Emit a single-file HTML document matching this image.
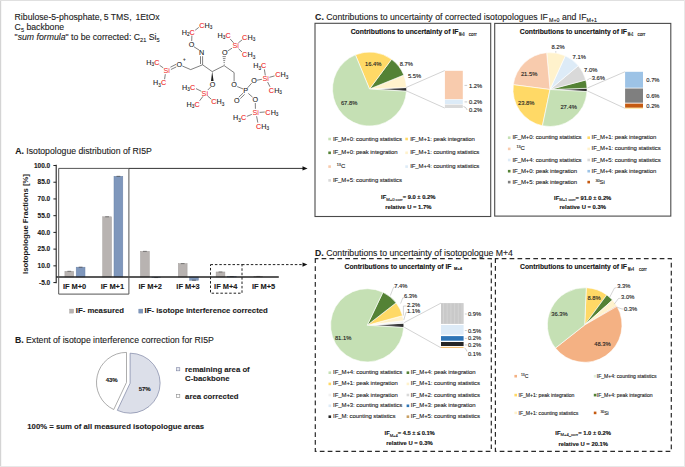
<!DOCTYPE html><html><head><meta charset="utf-8"><style>html,body{margin:0;padding:0;background:#fff;}svg{display:block;}</style></head><body>
<svg width="685" height="467" viewBox="0 0 685 467" font-family='"Liberation Sans", sans-serif'>
<defs><linearGradient id="oth" x1="0" y1="0" x2="1" y2="0"><stop offset="0" stop-color="#fff"/><stop offset="0.35" stop-color="#bbb"/><stop offset="0.7" stop-color="#444"/><stop offset="1" stop-color="#111"/></linearGradient></defs>
<rect x="0.00" y="0.00" width="685.00" height="467.00" fill="#fff" stroke="none" stroke-width="0"/>
<rect x="0.00" y="0.00" width="1.20" height="467.00" fill="#d4d4d4" stroke="none" stroke-width="0"/>
<rect x="0.00" y="0.00" width="685.00" height="1.00" fill="#e0e0e0" stroke="none" stroke-width="0"/>
<rect x="684.00" y="0.00" width="1.00" height="467.00" fill="#e8e8e8" stroke="none" stroke-width="0"/>
<rect x="0.00" y="466.00" width="685.00" height="1.00" fill="#e8e8e8" stroke="none" stroke-width="0"/>
<text x="14.60" y="20.10" font-size="8.7" text-anchor="start" fill="#1a1a1a" stroke="#1a1a1a" stroke-width="0.1">Ribulose-5-phosphate,<tspan dx="-0.7"> 5 TMS,</tspan><tspan dx="1.5"> 1EtOx</tspan></text>
<text x="14.60" y="30.10" font-size="8.7" text-anchor="start" fill="#1a1a1a" stroke="#1a1a1a" stroke-width="0.1">C<tspan font-size="5.6" dy="1.6">5</tspan><tspan dy="-1.6"> backbone</tspan></text>
<text x="14.60" y="40.00" font-size="8.7" text-anchor="start" fill="#1a1a1a" stroke="#1a1a1a" stroke-width="0.1">"<tspan font-style="italic">sum formula</tspan>" to be corrected: C<tspan font-size="5.6" dy="1.6">21</tspan><tspan dy="-1.6"> Si</tspan><tspan font-size="5.6" dy="1.6">5</tspan></text>
<text x="15.20" y="153.70" font-size="8.7" text-anchor="start" fill="#1a1a1a" stroke="#1a1a1a" stroke-width="0.1"><tspan font-weight="bold">A.</tspan> Isotopologue distribution of RI5P</text>
<text x="14.90" y="343.20" font-size="8.7" text-anchor="start" fill="#1a1a1a" stroke="#1a1a1a" stroke-width="0.1"><tspan font-weight="bold">B.</tspan> Extent of isotope interference correction for RI5P</text>
<text x="315.10" y="20.20" font-size="8.7" text-anchor="start" fill="#1a1a1a" stroke="#1a1a1a" stroke-width="0.1" textLength="232.8" lengthAdjust="spacing"><tspan font-weight="bold">C.</tspan> Contributions to uncertainty of corrected isotopologues IF</text>
<text x="549.00" y="22.00" font-size="5.3" text-anchor="start" fill="#1a1a1a" stroke="#1a1a1a" stroke-width="0.12">M+0</text>
<text x="561.90" y="20.20" font-size="8.7" text-anchor="start" fill="#1a1a1a" stroke="#1a1a1a" stroke-width="0.1">and IF</text>
<text x="586.60" y="22.00" font-size="5.3" text-anchor="start" fill="#1a1a1a" stroke="#1a1a1a" stroke-width="0.12">M+1</text>
<text x="315.10" y="255.50" font-size="8.7" text-anchor="start" fill="#1a1a1a" stroke="#1a1a1a" stroke-width="0.1"><tspan font-weight="bold">D.</tspan> Contributions to uncertainty of isotopologue M+4</text>
<line x1="56.20" y1="164.80" x2="56.20" y2="283.20" stroke="#222" stroke-width="1.1"/>
<line x1="53.40" y1="165.50" x2="56.20" y2="165.50" stroke="#222" stroke-width="1"/>
<text x="50.20" y="167.70" font-size="6.5" font-weight="bold" text-anchor="end" fill="#1a1a1a" stroke="#1a1a1a" stroke-width="0.12">100.0</text>
<line x1="53.40" y1="182.22" x2="56.20" y2="182.22" stroke="#222" stroke-width="1"/>
<text x="50.20" y="184.42" font-size="6.5" font-weight="bold" text-anchor="end" fill="#1a1a1a" stroke="#1a1a1a" stroke-width="0.12">85.0</text>
<line x1="53.40" y1="198.95" x2="56.20" y2="198.95" stroke="#222" stroke-width="1"/>
<text x="50.20" y="201.15" font-size="6.5" font-weight="bold" text-anchor="end" fill="#1a1a1a" stroke="#1a1a1a" stroke-width="0.12">70.0</text>
<line x1="53.40" y1="215.68" x2="56.20" y2="215.68" stroke="#222" stroke-width="1"/>
<text x="50.20" y="217.88" font-size="6.5" font-weight="bold" text-anchor="end" fill="#1a1a1a" stroke="#1a1a1a" stroke-width="0.12">55.0</text>
<line x1="53.40" y1="232.40" x2="56.20" y2="232.40" stroke="#222" stroke-width="1"/>
<text x="50.20" y="234.60" font-size="6.5" font-weight="bold" text-anchor="end" fill="#1a1a1a" stroke="#1a1a1a" stroke-width="0.12">40.0</text>
<line x1="53.40" y1="249.12" x2="56.20" y2="249.12" stroke="#222" stroke-width="1"/>
<text x="50.20" y="251.32" font-size="6.5" font-weight="bold" text-anchor="end" fill="#1a1a1a" stroke="#1a1a1a" stroke-width="0.12">25.0</text>
<line x1="53.40" y1="265.85" x2="56.20" y2="265.85" stroke="#222" stroke-width="1"/>
<text x="50.20" y="268.05" font-size="6.5" font-weight="bold" text-anchor="end" fill="#1a1a1a" stroke="#1a1a1a" stroke-width="0.12">10.0</text>
<line x1="53.40" y1="282.57" x2="56.20" y2="282.57" stroke="#222" stroke-width="1"/>
<text x="50.20" y="284.77" font-size="6.5" font-weight="bold" text-anchor="end" fill="#1a1a1a" stroke="#1a1a1a" stroke-width="0.12">-5.0</text>
<text x="0" y="0" font-size="7.75" font-weight="bold" text-anchor="middle" fill="#1a1a1a" transform="translate(27.8,224) rotate(-90)">Isotopologue Fractions [%]</text>
<rect x="64.90" y="271.31" width="8.80" height="5.69" fill="#b8b3b1" stroke="#a29d9b" stroke-width="0.5"/>
<line x1="67.40" y1="271.31" x2="71.20" y2="271.31" stroke="#555" stroke-width="0.7"/>
<rect x="76.20" y="267.19" width="8.80" height="9.81" fill="#7f97bc" stroke="#6a82a8" stroke-width="0.5"/>
<line x1="78.70" y1="267.19" x2="82.50" y2="267.19" stroke="#444" stroke-width="0.7"/>
<rect x="102.70" y="216.79" width="8.80" height="60.21" fill="#b8b3b1" stroke="#a29d9b" stroke-width="0.5"/>
<line x1="105.20" y1="216.79" x2="109.00" y2="216.79" stroke="#555" stroke-width="0.7"/>
<rect x="114.00" y="176.32" width="8.80" height="100.68" fill="#7f97bc" stroke="#6a82a8" stroke-width="0.5"/>
<line x1="116.50" y1="176.32" x2="120.30" y2="176.32" stroke="#444" stroke-width="0.7"/>
<rect x="140.50" y="251.35" width="8.80" height="25.65" fill="#b8b3b1" stroke="#a29d9b" stroke-width="0.5"/>
<line x1="143.00" y1="251.35" x2="146.80" y2="251.35" stroke="#555" stroke-width="0.7"/>
<rect x="151.80" y="277.00" width="8.80" height="0.56" fill="#7f97bc" stroke="#6a82a8" stroke-width="0.5"/>
<line x1="154.30" y1="277.56" x2="158.10" y2="277.56" stroke="#444" stroke-width="0.7"/>
<rect x="178.30" y="263.62" width="8.80" height="13.38" fill="#b8b3b1" stroke="#a29d9b" stroke-width="0.5"/>
<line x1="180.80" y1="263.62" x2="184.60" y2="263.62" stroke="#555" stroke-width="0.7"/>
<rect x="189.60" y="277.00" width="8.80" height="3.23" fill="#7f97bc" stroke="#6a82a8" stroke-width="0.5"/>
<line x1="192.10" y1="280.23" x2="195.90" y2="280.23" stroke="#444" stroke-width="0.7"/>
<rect x="216.10" y="271.98" width="8.80" height="5.02" fill="#b8b3b1" stroke="#a29d9b" stroke-width="0.5"/>
<line x1="218.60" y1="271.98" x2="222.40" y2="271.98" stroke="#555" stroke-width="0.7"/>
<rect x="227.40" y="276.55" width="8.80" height="0.45" fill="#7f97bc" stroke="#6a82a8" stroke-width="0.5"/>
<line x1="229.90" y1="276.55" x2="233.70" y2="276.55" stroke="#444" stroke-width="0.7"/>
<rect x="253.90" y="276.44" width="8.80" height="0.56" fill="#b8b3b1" stroke="#a29d9b" stroke-width="0.5"/>
<line x1="256.40" y1="276.44" x2="260.20" y2="276.44" stroke="#555" stroke-width="0.7"/>
<line x1="56.20" y1="277.00" x2="278.80" y2="277.00" stroke="#222" stroke-width="1.3"/>
<text x="74.60" y="289.10" font-size="7.45" font-weight="bold" text-anchor="middle" fill="#1a1a1a" stroke="#1a1a1a" stroke-width="0.1">IF M+0</text>
<text x="112.40" y="289.10" font-size="7.45" font-weight="bold" text-anchor="middle" fill="#1a1a1a" stroke="#1a1a1a" stroke-width="0.1">IF M+1</text>
<text x="150.20" y="289.10" font-size="7.45" font-weight="bold" text-anchor="middle" fill="#1a1a1a" stroke="#1a1a1a" stroke-width="0.1">IF M+2</text>
<text x="188.00" y="289.10" font-size="7.45" font-weight="bold" text-anchor="middle" fill="#1a1a1a" stroke="#1a1a1a" stroke-width="0.1">IF M+3</text>
<text x="225.80" y="289.10" font-size="7.45" font-weight="bold" text-anchor="middle" fill="#1a1a1a" stroke="#1a1a1a" stroke-width="0.1">IF M+4</text>
<text x="263.60" y="289.10" font-size="7.45" font-weight="bold" text-anchor="middle" fill="#1a1a1a" stroke="#1a1a1a" stroke-width="0.1">IF M+5</text>
<path d="M58.7,168.4 L128.9,168.4 L128.9,294.1 L58.7,294.1 Z" fill="none" stroke="#555" stroke-width="1"/>
<line x1="128.90" y1="168.40" x2="303.50" y2="168.40" stroke="#333" stroke-width="1"/>
<path d="M302.5,166.2 L307.6,168.4 L302.5,170.6 Z" fill="#111"/>
<path d="M210.5,264.6 L242,264.6 L242,293.2 L210.5,293.2 Z" fill="none" stroke="#222" stroke-width="1" stroke-dasharray="2.5,1.9"/>
<line x1="242" y1="264.6" x2="302.5" y2="264.6" stroke="#222" stroke-width="1" stroke-dasharray="2.5,1.9"/>
<path d="M302.5,262.4 L307.4,264.6 L302.5,266.8 Z" fill="#111"/>
<rect x="69.60" y="309.10" width="4.00" height="4.00" fill="#b8b3b1" stroke="#a29d9b" stroke-width="0.4"/>
<text x="75.80" y="313.40" font-size="7.75" font-weight="bold" text-anchor="start" fill="#1a1a1a" stroke="#1a1a1a" stroke-width="0.1">IF- measured</text>
<rect x="138.80" y="309.10" width="4.00" height="4.00" fill="#7f97bc" stroke="#6a82a8" stroke-width="0.4"/>
<text x="144.60" y="313.40" font-size="7.75" font-weight="bold" text-anchor="start" fill="#1a1a1a" stroke="#1a1a1a" stroke-width="0.1">IF- isotope interference corrected</text>
<path d="M130.10,383.20 L130.10,353.20 A30,30 0 1 1 117.33,410.34 Z" fill="#dcdfe9" stroke="#7d84a3" stroke-width="0.7" stroke-linejoin="round"/>
<path d="M126.50,382.40 L113.73,409.54 A30,30 0 0 1 126.50,352.40 Z" fill="#ffffff" stroke="#8a8a8a" stroke-width="0.7" stroke-linejoin="round"/>
<text x="111.70" y="382.30" font-size="6.0" font-weight="bold" text-anchor="middle" fill="#1a1a1a" stroke="#1a1a1a" stroke-width="0.12">43%</text>
<text x="144.70" y="390.50" font-size="6.0" font-weight="bold" text-anchor="middle" fill="#1a1a1a" stroke="#1a1a1a" stroke-width="0.12">57%</text>
<rect x="176.50" y="367.70" width="3.30" height="3.10" fill="#e4e6ee" stroke="#7d84a3" stroke-width="0.6"/>
<text x="185.10" y="371.80" font-size="7.75" font-weight="bold" text-anchor="start" fill="#1a1a1a" stroke="#1a1a1a" stroke-width="0.1">remaining area of</text>
<text x="185.10" y="380.60" font-size="7.75" font-weight="bold" text-anchor="start" fill="#1a1a1a" stroke="#1a1a1a" stroke-width="0.1">C-backbone</text>
<rect x="176.50" y="394.30" width="3.30" height="3.10" fill="#ffffff" stroke="#8a8a8a" stroke-width="0.6"/>
<text x="185.10" y="398.80" font-size="7.75" font-weight="bold" text-anchor="start" fill="#1a1a1a" stroke="#1a1a1a" stroke-width="0.1">area corrected</text>
<text x="27.30" y="429.00" font-size="7.75" font-weight="bold" text-anchor="start" fill="#1a1a1a" stroke="#1a1a1a" stroke-width="0.1">100% = sum of all measured isotopologue areas</text>
<rect x="315" y="23.3" width="175.7" height="193.2" fill="none" stroke="#4a4a4a" stroke-width="1.1"/>
<rect x="494.7" y="23.4" width="176.1" height="192.7" fill="none" stroke="#4a4a4a" stroke-width="1.1"/>
<rect x="315.3" y="258.6" width="176" height="192.8" fill="none" stroke="#2a2a2a" stroke-width="1.2" stroke-dasharray="4.7,3.2" stroke-dashoffset="1.6"/>
<rect x="495.4" y="258.6" width="175.9" height="192.8" fill="none" stroke="#2a2a2a" stroke-width="1.2" stroke-dasharray="4.7,3.2" stroke-dashoffset="1.6"/>
<text x="350.70" y="34.20" font-size="6.9" font-weight="bold" text-anchor="start" fill="#111" stroke="#111" stroke-width="0.12" textLength="107.8" lengthAdjust="spacingAndGlyphs">Contributions to uncertainty of IF</text>
<text x="459.00" y="35.60" font-size="4.6" font-weight="bold" text-anchor="start" fill="#111" stroke="#111" stroke-width="0.12" textLength="5.5" lengthAdjust="spacingAndGlyphs">M+0</text>
<text x="468.80" y="35.60" font-size="4.6" text-anchor="start" fill="#111" stroke="#111" stroke-width="0.12" textLength="7.9" lengthAdjust="spacingAndGlyphs">corr</text>
<text x="519.80" y="34.20" font-size="6.9" font-weight="bold" text-anchor="start" fill="#111" stroke="#111" stroke-width="0.12" textLength="107.1" lengthAdjust="spacingAndGlyphs">Contributions to uncertainty of IF</text>
<text x="627.80" y="35.60" font-size="4.6" font-weight="bold" text-anchor="start" fill="#111" stroke="#111" stroke-width="0.12" textLength="5.6" lengthAdjust="spacingAndGlyphs">M+1</text>
<text x="637.40" y="35.60" font-size="4.6" text-anchor="start" fill="#111" stroke="#111" stroke-width="0.12" textLength="7.9" lengthAdjust="spacingAndGlyphs">corr</text>
<text x="344.50" y="269.20" font-size="6.9" font-weight="bold" text-anchor="start" fill="#111" stroke="#111" stroke-width="0.12" textLength="106.9" lengthAdjust="spacingAndGlyphs">Contributions to uncertainty of IF</text>
<text x="454.00" y="270.10" font-size="3.6" font-weight="bold" text-anchor="start" fill="#111" stroke="#111" stroke-width="0.12" textLength="8.0" lengthAdjust="spacingAndGlyphs">M+4</text>
<text x="520.10" y="269.20" font-size="6.9" font-weight="bold" text-anchor="start" fill="#111" stroke="#111" stroke-width="0.12" textLength="106.9" lengthAdjust="spacingAndGlyphs">Contributions to uncertainty of IF</text>
<text x="628.00" y="270.60" font-size="4.6" font-weight="bold" text-anchor="start" fill="#111" stroke="#111" stroke-width="0.12" textLength="6.0" lengthAdjust="spacingAndGlyphs">M+4</text>
<text x="638.90" y="270.60" font-size="4.6" text-anchor="start" fill="#111" stroke="#111" stroke-width="0.12" textLength="7.9" lengthAdjust="spacingAndGlyphs">corr</text>
<defs><linearGradient id="g1" gradientUnits="userSpaceOnUse" x1="369.5" y1="0" x2="406.5" y2="0"><stop offset="0" stop-color="#fff"/><stop offset="0.2" stop-color="#c4c4c4"/><stop offset="0.42" stop-color="#6a6a6a"/><stop offset="0.75" stop-color="#444"/><stop offset="1" stop-color="#2a2a2a"/></linearGradient></defs>
<path d="M369.50,89.00 L406.47,87.54 A37,37 0 0 1 406.43,91.26 Z" fill="url(#g1)" stroke="#fff" stroke-width="0.6" stroke-linejoin="round"/>
<path d="M369.50,89.00 L403.79,75.10 A37,37 0 0 1 406.47,87.54 Z" fill="#fff2cc" stroke="#fff" stroke-width="0.6" stroke-linejoin="round"/>
<path d="M369.50,89.00 L391.57,59.30 A37,37 0 0 1 403.79,75.10 Z" fill="#548235" stroke="#fff" stroke-width="0.6" stroke-linejoin="round"/>
<path d="M369.50,89.00 L355.39,54.80 A37,37 0 0 1 391.57,59.30 Z" fill="#ffd966" stroke="#fff" stroke-width="0.6" stroke-linejoin="round"/>
<path d="M369.50,89.00 L406.43,91.26 A37,37 0 1 1 355.39,54.80 Z" fill="#c5e0b4" stroke="#fff" stroke-width="0.6" stroke-linejoin="round"/>
<text x="373.20" y="66.35" font-size="5.8" text-anchor="middle" fill="#222" stroke="#222" stroke-width="0.12">16.4%</text>
<text x="406.40" y="66.35" font-size="5.8" text-anchor="middle" fill="#222" stroke="#222" stroke-width="0.12">8.7%</text>
<text x="414.50" y="78.25" font-size="5.8" text-anchor="middle" fill="#222" stroke="#222" stroke-width="0.12">5.5%</text>
<text x="349.10" y="104.85" font-size="5.8" text-anchor="middle" fill="#222" stroke="#222" stroke-width="0.12">67.8%</text>
<line x1="405.90" y1="87.60" x2="444.70" y2="70.60" stroke="#b5b5b5" stroke-width="0.6"/>
<line x1="405.90" y1="90.60" x2="444.70" y2="108.00" stroke="#b5b5b5" stroke-width="0.6"/>
<rect x="444.90" y="70.80" width="17.90" height="28.40" fill="#f8cbad" stroke="none" stroke-width="0"/>
<rect x="444.90" y="99.70" width="17.90" height="4.30" fill="#ddebf7" stroke="none" stroke-width="0"/>
<rect x="444.90" y="104.60" width="17.90" height="3.40" fill="#d9d9d9" stroke="none" stroke-width="0"/>
<line x1="464.50" y1="85.40" x2="467.20" y2="85.40" stroke="#999" stroke-width="0.5"/>
<line x1="464.50" y1="101.90" x2="467.20" y2="101.90" stroke="#999" stroke-width="0.5"/>
<path d="M463.5,106.5 Q466,106.8 467.2,110" fill="none" stroke="#999" stroke-width="0.5"/>
<text x="469.00" y="87.70" font-size="5.8" text-anchor="start" fill="#222" stroke="#222" stroke-width="0.12">1.2%</text>
<text x="469.00" y="104.10" font-size="5.8" text-anchor="start" fill="#222" stroke="#222" stroke-width="0.12">0.2%</text>
<text x="469.00" y="112.40" font-size="5.8" text-anchor="start" fill="#222" stroke="#222" stroke-width="0.12">0.2%</text>
<rect x="328.30" y="137.70" width="2.60" height="2.60" fill="#c5e0b4" stroke="none" stroke-width="0"/>
<text x="332.90" y="140.50" font-size="6.0" text-anchor="start" fill="#262626" stroke="#262626" stroke-width="0.12" letter-spacing="-0.08">IF_M+0: counting statistics</text>
<rect x="405.30" y="137.70" width="2.60" height="2.60" fill="#ffd966" stroke="none" stroke-width="0"/>
<text x="410.20" y="140.50" font-size="6.0" text-anchor="start" fill="#262626" stroke="#262626" stroke-width="0.12" letter-spacing="-0.08">IF_M+1: peak integration</text>
<rect x="328.30" y="151.50" width="2.60" height="2.60" fill="#548235" stroke="none" stroke-width="0"/>
<text x="332.90" y="154.30" font-size="6.0" text-anchor="start" fill="#262626" stroke="#262626" stroke-width="0.12" letter-spacing="-0.08">IF_M+0: peak integration</text>
<rect x="405.30" y="151.50" width="2.60" height="2.60" fill="#fff2cc" stroke="none" stroke-width="0"/>
<text x="410.20" y="154.30" font-size="6.0" text-anchor="start" fill="#262626" stroke="#262626" stroke-width="0.12" letter-spacing="-0.08">IF_M+1: counting statistics</text>
<rect x="328.30" y="165.30" width="2.60" height="2.60" fill="#f8cbad" stroke="none" stroke-width="0"/>
<text x="336.80" y="168.10" font-size="6.0" text-anchor="start" fill="#262626" stroke="#262626" stroke-width="0.12" letter-spacing="-0.08"><tspan font-size="3.8" dy="-2">13</tspan><tspan dy="2">C</tspan></text>
<rect x="405.30" y="165.30" width="2.60" height="2.60" fill="#ddebf7" stroke="none" stroke-width="0"/>
<text x="410.20" y="168.10" font-size="6.0" text-anchor="start" fill="#262626" stroke="#262626" stroke-width="0.12" letter-spacing="-0.08">IF_M+4: counting statistics</text>
<rect x="328.30" y="179.10" width="2.60" height="2.60" fill="#d9d9d9" stroke="none" stroke-width="0"/>
<text x="332.90" y="181.90" font-size="6.0" text-anchor="start" fill="#262626" stroke="#262626" stroke-width="0.12" letter-spacing="-0.08">IF_M+5: counting statistics</text>
<text x="381.10" y="199.30" font-size="5.85" font-weight="bold" text-anchor="start" fill="#111" stroke="#111" stroke-width="0.12" textLength="54.3" lengthAdjust="spacing">IF<tspan font-size="4.2" font-weight="normal" dy="1.2">M+0 corr</tspan><tspan dy="-1.2">= 9.0 ± 0.2%</tspan></text>
<text x="408.30" y="209.30" font-size="5.85" font-weight="bold" text-anchor="middle" fill="#111" stroke="#111" stroke-width="0.12">relative U = 1.7%</text>
<defs><linearGradient id="g2" gradientUnits="userSpaceOnUse" x1="550.0" y1="0" x2="587.0" y2="0"><stop offset="0" stop-color="#fff"/><stop offset="0.2" stop-color="#c4c4c4"/><stop offset="0.42" stop-color="#6a6a6a"/><stop offset="0.75" stop-color="#444"/><stop offset="1" stop-color="#2a2a2a"/></linearGradient></defs>
<path d="M550.00,89.50 L586.98,88.27 A37,37 0 0 1 586.93,91.76 Z" fill="url(#g2)" stroke="#fff" stroke-width="0.6" stroke-linejoin="round"/>
<path d="M550.00,89.50 L585.76,80.01 A37,37 0 0 1 586.98,88.27 Z" fill="#548235" stroke="#fff" stroke-width="0.6" stroke-linejoin="round"/>
<path d="M550.00,89.50 L578.32,65.69 A37,37 0 0 1 585.76,80.01 Z" fill="#d9d9d9" stroke="#fff" stroke-width="0.6" stroke-linejoin="round"/>
<path d="M550.00,89.50 L565.27,55.80 A37,37 0 0 1 578.32,65.69 Z" fill="#ddebf7" stroke="#fff" stroke-width="0.6" stroke-linejoin="round"/>
<path d="M550.00,89.50 L546.69,52.65 A37,37 0 0 1 565.27,55.80 Z" fill="#fff2cc" stroke="#fff" stroke-width="0.6" stroke-linejoin="round"/>
<path d="M550.00,89.50 L513.31,84.70 A37,37 0 0 1 546.69,52.65 Z" fill="#f8cbad" stroke="#fff" stroke-width="0.6" stroke-linejoin="round"/>
<path d="M550.00,89.50 L542.45,125.72 A37,37 0 0 1 513.31,84.70 Z" fill="#ffd966" stroke="#fff" stroke-width="0.6" stroke-linejoin="round"/>
<path d="M550.00,89.50 L586.94,91.53 A37,37 0 0 1 542.45,125.72 Z" fill="#c5e0b4" stroke="#fff" stroke-width="0.6" stroke-linejoin="round"/>
<text x="558.00" y="49.35" font-size="5.8" text-anchor="middle" fill="#222" stroke="#222" stroke-width="0.12">8.2%</text>
<text x="579.20" y="59.05" font-size="5.8" text-anchor="middle" fill="#222" stroke="#222" stroke-width="0.12">7.1%</text>
<text x="590.70" y="71.95" font-size="5.8" text-anchor="middle" fill="#222" stroke="#222" stroke-width="0.12">7.0%</text>
<text x="598.40" y="79.65" font-size="5.8" text-anchor="middle" fill="#222" stroke="#222" stroke-width="0.12">3.6%</text>
<line x1="555.80" y1="51.00" x2="555.80" y2="52.80" stroke="#aaa" stroke-width="0.5"/>
<polyline points="587.1,80.2 589.5,78.6 591.5,78.4" fill="none" stroke="#aaa" stroke-width="0.5"/>
<text x="529.10" y="75.75" font-size="5.8" text-anchor="middle" fill="#222" stroke="#222" stroke-width="0.12">21.5%</text>
<text x="526.20" y="104.65" font-size="5.8" text-anchor="middle" fill="#222" stroke="#222" stroke-width="0.12">23.8%</text>
<text x="568.60" y="109.45" font-size="5.8" text-anchor="middle" fill="#222" stroke="#222" stroke-width="0.12">27.4%</text>
<line x1="587.40" y1="88.00" x2="624.90" y2="71.80" stroke="#b5b5b5" stroke-width="0.6"/>
<line x1="587.40" y1="90.90" x2="624.90" y2="108.30" stroke="#b5b5b5" stroke-width="0.6"/>
<rect x="625.10" y="71.80" width="17.90" height="15.90" fill="#9dc3e6" stroke="none" stroke-width="0"/>
<rect x="625.10" y="88.50" width="17.90" height="14.20" fill="#7f7f7f" stroke="none" stroke-width="0"/>
<rect x="625.10" y="103.60" width="17.90" height="4.10" fill="#c55a11" stroke="none" stroke-width="0"/>
<rect x="625.10" y="107.90" width="17.90" height="0.60" fill="#ffd966" stroke="none" stroke-width="0"/>
<text x="646.30" y="82.10" font-size="5.8" text-anchor="start" fill="#222" stroke="#222" stroke-width="0.12">0.7%</text>
<text x="646.30" y="98.00" font-size="5.8" text-anchor="start" fill="#222" stroke="#222" stroke-width="0.12">0.6%</text>
<text x="646.30" y="108.10" font-size="5.8" text-anchor="start" fill="#222" stroke="#222" stroke-width="0.12">0.2%</text>
<rect x="507.90" y="136.40" width="2.60" height="2.60" fill="#c5e0b4" stroke="none" stroke-width="0"/>
<text x="512.50" y="139.20" font-size="6.0" text-anchor="start" fill="#262626" stroke="#262626" stroke-width="0.12" letter-spacing="-0.08">IF_M+0: counting statistics</text>
<rect x="587.40" y="136.40" width="2.60" height="2.60" fill="#ffd966" stroke="none" stroke-width="0"/>
<text x="591.60" y="139.20" font-size="6.0" text-anchor="start" fill="#262626" stroke="#262626" stroke-width="0.12" letter-spacing="-0.08">IF_M+1: peak integration</text>
<rect x="507.90" y="147.60" width="2.60" height="2.60" fill="#f8cbad" stroke="none" stroke-width="0"/>
<text x="516.40" y="150.40" font-size="6.0" text-anchor="start" fill="#262626" stroke="#262626" stroke-width="0.12" letter-spacing="-0.08"><tspan font-size="3.8" dy="-2">13</tspan><tspan dy="2">C</tspan></text>
<rect x="587.40" y="147.60" width="2.60" height="2.60" fill="#fff2cc" stroke="none" stroke-width="0"/>
<text x="591.60" y="150.40" font-size="6.0" text-anchor="start" fill="#262626" stroke="#262626" stroke-width="0.12" letter-spacing="-0.08">IF_M+1: counting statistics</text>
<rect x="507.90" y="158.70" width="2.60" height="2.60" fill="#ddebf7" stroke="none" stroke-width="0"/>
<text x="512.50" y="161.50" font-size="6.0" text-anchor="start" fill="#262626" stroke="#262626" stroke-width="0.12" letter-spacing="-0.08">IF_M+4: counting statistics</text>
<rect x="587.40" y="158.70" width="2.60" height="2.60" fill="#d9d9d9" stroke="none" stroke-width="0"/>
<text x="591.60" y="161.50" font-size="6.0" text-anchor="start" fill="#262626" stroke="#262626" stroke-width="0.12" letter-spacing="-0.08">IF_M+5: counting statistics</text>
<rect x="507.90" y="169.90" width="2.60" height="2.60" fill="#548235" stroke="none" stroke-width="0"/>
<text x="512.50" y="172.70" font-size="6.0" text-anchor="start" fill="#262626" stroke="#262626" stroke-width="0.12" letter-spacing="-0.08">IF_M+0: peak integration</text>
<rect x="587.40" y="169.90" width="2.60" height="2.60" fill="#9dc3e6" stroke="none" stroke-width="0"/>
<text x="591.60" y="172.70" font-size="6.0" text-anchor="start" fill="#262626" stroke="#262626" stroke-width="0.12" letter-spacing="-0.08">IF_M+4: peak integration</text>
<rect x="507.90" y="180.80" width="2.60" height="2.60" fill="#7f7f7f" stroke="none" stroke-width="0"/>
<text x="512.50" y="183.60" font-size="6.0" text-anchor="start" fill="#262626" stroke="#262626" stroke-width="0.12" letter-spacing="-0.08">IF_M+5: peak integration</text>
<rect x="587.40" y="180.80" width="2.60" height="2.60" fill="#c55a11" stroke="none" stroke-width="0"/>
<text x="595.50" y="183.60" font-size="6.0" text-anchor="start" fill="#262626" stroke="#262626" stroke-width="0.12" letter-spacing="-0.08"><tspan font-size="3.8" dy="-2">30</tspan><tspan dy="2">Si</tspan></text>
<text x="554.10" y="199.60" font-size="5.85" font-weight="bold" text-anchor="start" fill="#111" stroke="#111" stroke-width="0.12" textLength="57.2" lengthAdjust="spacing">IF<tspan font-size="4.2" font-weight="normal" dy="1.2">M+1 corr</tspan><tspan dy="-1.2">= 91.0 ± 0.2%</tspan></text>
<text x="582.70" y="209.30" font-size="5.85" font-weight="bold" text-anchor="middle" fill="#111" stroke="#111" stroke-width="0.12">relative U = 0.3%</text>
<defs><linearGradient id="g3" gradientUnits="userSpaceOnUse" x1="367.2" y1="0" x2="403.8" y2="0"><stop offset="0" stop-color="#fff"/><stop offset="0.2" stop-color="#c4c4c4"/><stop offset="0.42" stop-color="#6a6a6a"/><stop offset="0.75" stop-color="#444"/><stop offset="1" stop-color="#2a2a2a"/></linearGradient></defs>
<path d="M367.20,325.30 L403.74,323.17 A36.6,36.6 0 0 1 403.73,327.53 Z" fill="url(#g3)" stroke="#fff" stroke-width="0.6" stroke-linejoin="round"/>
<path d="M367.20,325.30 L403.50,320.65 A36.6,36.6 0 0 1 403.74,323.17 Z" fill="#f2f2f2" stroke="#fff" stroke-width="0.6" stroke-linejoin="round"/>
<path d="M367.20,325.30 L402.52,315.69 A36.6,36.6 0 0 1 403.50,320.65 Z" fill="#fff2cc" stroke="#fff" stroke-width="0.6" stroke-linejoin="round"/>
<path d="M367.20,325.30 L396.08,302.82 A36.6,36.6 0 0 1 402.52,315.69 Z" fill="#ffd966" stroke="#fff" stroke-width="0.6" stroke-linejoin="round"/>
<path d="M367.20,325.30 L382.93,292.25 A36.6,36.6 0 0 1 396.08,302.82 Z" fill="#548235" stroke="#fff" stroke-width="0.6" stroke-linejoin="round"/>
<path d="M367.20,325.30 L403.73,327.53 A36.6,36.6 0 1 1 382.93,292.25 Z" fill="#c5e0b4" stroke="#fff" stroke-width="0.6" stroke-linejoin="round"/>
<text x="400.90" y="287.85" font-size="5.8" text-anchor="middle" fill="#222" stroke="#222" stroke-width="0.12">7.4%</text>
<text x="410.60" y="298.45" font-size="5.8" text-anchor="middle" fill="#222" stroke="#222" stroke-width="0.12">6.3%</text>
<text x="413.50" y="306.75" font-size="5.8" text-anchor="middle" fill="#222" stroke="#222" stroke-width="0.12">2.2%</text>
<text x="413.50" y="312.85" font-size="5.8" text-anchor="middle" fill="#222" stroke="#222" stroke-width="0.12">1.1%</text>
<text x="343.10" y="339.85" font-size="5.8" text-anchor="middle" fill="#222" stroke="#222" stroke-width="0.12">81.1%</text>
<polyline points="390.3,295.6 393.6,287.2 395.2,287.2" fill="none" stroke="#aaa" stroke-width="0.5"/>
<polyline points="400.6,303.6 402.8,297.8 404.4,297.8" fill="none" stroke="#aaa" stroke-width="0.5"/>
<polyline points="403.4,315.5 403.4,306.0 406.5,306.0" fill="none" stroke="#aaa" stroke-width="0.5"/>
<polyline points="403.8,320.0 406.0,312.2 407.0,312.2" fill="none" stroke="#aaa" stroke-width="0.5"/>
<line x1="404.20" y1="322.60" x2="441.00" y2="303.10" stroke="#b5b5b5" stroke-width="0.6"/>
<line x1="404.20" y1="327.20" x2="441.00" y2="347.80" stroke="#b5b5b5" stroke-width="0.6"/>
<rect x="441.00" y="303.10" width="22.60" height="20.80" fill="#c9c9c9" stroke="none" stroke-width="0"/>
<rect x="441.00" y="325.00" width="22.60" height="9.70" fill="#ddebf7" stroke="none" stroke-width="0"/>
<rect x="441.00" y="336.10" width="22.60" height="4.60" fill="#2e75b6" stroke="none" stroke-width="0"/>
<rect x="441.00" y="342.00" width="22.60" height="4.00" fill="#262626" stroke="none" stroke-width="0"/>
<rect x="441.00" y="346.90" width="22.60" height="0.90" fill="#f0b050" stroke="none" stroke-width="0"/>
<line x1="443.50" y1="303.10" x2="443.50" y2="323.90" stroke="#dadada" stroke-width="0.6"/>
<line x1="447.20" y1="303.10" x2="447.20" y2="323.90" stroke="#dadada" stroke-width="0.6"/>
<line x1="450.90" y1="303.10" x2="450.90" y2="323.90" stroke="#dadada" stroke-width="0.6"/>
<line x1="454.60" y1="303.10" x2="454.60" y2="323.90" stroke="#dadada" stroke-width="0.6"/>
<line x1="458.30" y1="303.10" x2="458.30" y2="323.90" stroke="#dadada" stroke-width="0.6"/>
<line x1="462.00" y1="303.10" x2="462.00" y2="323.90" stroke="#dadada" stroke-width="0.6"/>
<text x="467.90" y="316.05" font-size="5.8" text-anchor="start" fill="#222" stroke="#222" stroke-width="0.12">0.9%</text>
<text x="467.90" y="332.55" font-size="5.8" text-anchor="start" fill="#222" stroke="#222" stroke-width="0.12">0.5%</text>
<text x="467.90" y="340.45" font-size="5.8" text-anchor="start" fill="#222" stroke="#222" stroke-width="0.12">0.2%</text>
<text x="467.90" y="346.95" font-size="5.8" text-anchor="start" fill="#222" stroke="#222" stroke-width="0.12">0.2%</text>
<text x="467.90" y="355.55" font-size="5.8" text-anchor="start" fill="#222" stroke="#222" stroke-width="0.12">0.1%</text>
<line x1="464.80" y1="314.00" x2="466.80" y2="314.00" stroke="#999" stroke-width="0.5"/>
<line x1="464.80" y1="330.50" x2="466.80" y2="330.50" stroke="#999" stroke-width="0.5"/>
<line x1="464.80" y1="338.40" x2="466.80" y2="338.40" stroke="#999" stroke-width="0.5"/>
<line x1="464.80" y1="344.90" x2="466.80" y2="344.90" stroke="#999" stroke-width="0.5"/>
<path d="M464.5,348 Q466.5,349 467,351.5" fill="none" stroke="#999" stroke-width="0.5"/>
<rect x="328.50" y="371.40" width="2.60" height="2.60" fill="#c5e0b4" stroke="none" stroke-width="0"/>
<text x="333.10" y="374.20" font-size="6.0" text-anchor="start" fill="#262626" stroke="#262626" stroke-width="0.12" letter-spacing="-0.08">IF_M+4: counting statistics</text>
<rect x="406.60" y="371.40" width="2.60" height="2.60" fill="#548235" stroke="none" stroke-width="0"/>
<text x="410.80" y="374.20" font-size="6.0" text-anchor="start" fill="#262626" stroke="#262626" stroke-width="0.12" letter-spacing="-0.08">IF_M+4: peak integration</text>
<rect x="328.50" y="382.60" width="2.60" height="2.60" fill="#ffd966" stroke="none" stroke-width="0"/>
<text x="333.10" y="385.40" font-size="6.0" text-anchor="start" fill="#262626" stroke="#262626" stroke-width="0.12" letter-spacing="-0.08">IF_M+1: peak integration</text>
<rect x="406.60" y="382.60" width="2.60" height="2.60" fill="#fff2cc" stroke="none" stroke-width="0"/>
<text x="410.80" y="385.40" font-size="6.0" text-anchor="start" fill="#262626" stroke="#262626" stroke-width="0.12" letter-spacing="-0.08">IF_M+1: counting statistics</text>
<rect x="328.50" y="393.70" width="2.60" height="2.60" fill="#f2f2f2" stroke="none" stroke-width="0"/>
<text x="333.10" y="396.50" font-size="6.0" text-anchor="start" fill="#262626" stroke="#262626" stroke-width="0.12" letter-spacing="-0.08">IF_M+2: peak integration</text>
<rect x="406.60" y="393.70" width="2.60" height="2.60" fill="#d9d9d9" stroke="none" stroke-width="0"/>
<text x="410.80" y="396.50" font-size="6.0" text-anchor="start" fill="#262626" stroke="#262626" stroke-width="0.12" letter-spacing="-0.08">IF_M+2: counting statistics</text>
<rect x="328.50" y="404.50" width="2.60" height="2.60" fill="#ddebf7" stroke="none" stroke-width="0"/>
<text x="333.10" y="407.30" font-size="6.0" text-anchor="start" fill="#262626" stroke="#262626" stroke-width="0.12" letter-spacing="-0.08">IF_M+3: counting statistics</text>
<rect x="406.60" y="404.50" width="2.60" height="2.60" fill="#2e75b6" stroke="none" stroke-width="0"/>
<text x="410.80" y="407.30" font-size="6.0" text-anchor="start" fill="#262626" stroke="#262626" stroke-width="0.12" letter-spacing="-0.08">IF_M+3: peak integration</text>
<rect x="328.50" y="415.40" width="2.60" height="2.60" fill="#262626" stroke="none" stroke-width="0"/>
<text x="333.10" y="418.20" font-size="6.0" text-anchor="start" fill="#262626" stroke="#262626" stroke-width="0.12" letter-spacing="-0.08">IF_M: counting statistics</text>
<rect x="406.60" y="415.40" width="2.60" height="2.60" fill="#c9a064" stroke="none" stroke-width="0"/>
<text x="410.80" y="418.20" font-size="6.0" text-anchor="start" fill="#262626" stroke="#262626" stroke-width="0.12" letter-spacing="-0.08">IF_M+5: counting statistics</text>
<text x="384.60" y="435.30" font-size="5.85" font-weight="bold" text-anchor="start" fill="#111" stroke="#111" stroke-width="0.12" textLength="50.2" lengthAdjust="spacing">IF<tspan font-size="4.2" font-weight="normal" dy="1.2">M+4</tspan><tspan dy="-1.2">= 4.5 ± ≤ 0.1%</tspan></text>
<text x="409.50" y="445.40" font-size="5.85" font-weight="bold" text-anchor="middle" fill="#111" stroke="#111" stroke-width="0.12">relative U = 0.3%</text>
<path d="M584.70,325.00 L586.26,287.73 A37.3,37.3 0 0 1 606.75,294.92 Z" fill="#ffd966" stroke="#fff" stroke-width="0.6" stroke-linejoin="round"/>
<path d="M584.70,325.00 L606.75,294.92 A37.3,37.3 0 0 1 612.47,300.10 Z" fill="#548235" stroke="#fff" stroke-width="0.6" stroke-linejoin="round"/>
<path d="M584.70,325.00 L612.47,300.10 A37.3,37.3 0 0 1 616.65,305.74 Z" fill="#fff2cc" stroke="#fff" stroke-width="0.6" stroke-linejoin="round"/>
<path d="M584.70,325.00 L616.65,305.74 A37.3,37.3 0 0 1 617.00,306.35 Z" fill="#c55a11" stroke="#fff" stroke-width="0.6" stroke-linejoin="round"/>
<path d="M584.70,325.00 L617.00,306.35 A37.3,37.3 0 0 1 555.42,348.11 Z" fill="#f4b183" stroke="#fff" stroke-width="0.6" stroke-linejoin="round"/>
<path d="M584.70,325.00 L555.42,348.11 A37.3,37.3 0 0 1 586.26,287.73 Z" fill="#c5e0b4" stroke="#fff" stroke-width="0.6" stroke-linejoin="round"/>
<text x="594.00" y="300.35" font-size="5.8" text-anchor="middle" fill="#222" stroke="#222" stroke-width="0.12">8.8%</text>
<text x="623.80" y="287.85" font-size="5.8" text-anchor="middle" fill="#222" stroke="#222" stroke-width="0.12">3.3%</text>
<text x="627.70" y="299.35" font-size="5.8" text-anchor="middle" fill="#222" stroke="#222" stroke-width="0.12">3.0%</text>
<text x="630.60" y="310.55" font-size="5.8" text-anchor="middle" fill="#222" stroke="#222" stroke-width="0.12">0.3%</text>
<text x="559.50" y="315.75" font-size="5.8" text-anchor="middle" fill="#222" stroke="#222" stroke-width="0.12">36.3%</text>
<text x="602.40" y="345.65" font-size="5.8" text-anchor="middle" fill="#222" stroke="#222" stroke-width="0.12">48.3%</text>
<polyline points="609.5,297.5 614.5,288.0 616.5,287.5" fill="none" stroke="#aaa" stroke-width="0.5"/>
<polyline points="614.2,304.2 618.5,298.5 620.5,298.3" fill="none" stroke="#aaa" stroke-width="0.5"/>
<polyline points="617.0,307.2 622.0,309.0 623.5,309.0" fill="none" stroke="#aaa" stroke-width="0.5"/>
<rect x="514.40" y="374.90" width="2.60" height="2.60" fill="#f4b183" stroke="none" stroke-width="0"/>
<text x="521.00" y="377.90" font-size="5.15" text-anchor="start" fill="#262626" stroke="#262626" stroke-width="0.12" letter-spacing="-0.05"><tspan font-size="3.4" dy="-1.8">13</tspan><tspan dy="1.8">C</tspan></text>
<rect x="593.80" y="374.90" width="2.60" height="2.60" fill="#e2efda" stroke="none" stroke-width="0"/>
<text x="596.80" y="377.90" font-size="5.15" text-anchor="start" fill="#262626" stroke="#262626" stroke-width="0.12" letter-spacing="-0.05">IF_M+4: counting statistics</text>
<rect x="514.40" y="393.80" width="2.60" height="2.60" fill="#ffd966" stroke="none" stroke-width="0"/>
<text x="518.60" y="396.80" font-size="5.15" text-anchor="start" fill="#262626" stroke="#262626" stroke-width="0.12" letter-spacing="-0.05">IF_M+1: peak integration</text>
<rect x="593.80" y="393.80" width="2.60" height="2.60" fill="#548235" stroke="none" stroke-width="0"/>
<text x="596.80" y="396.80" font-size="5.15" text-anchor="start" fill="#262626" stroke="#262626" stroke-width="0.12" letter-spacing="-0.05">IF_M+4: peak integration</text>
<rect x="514.40" y="411.60" width="2.60" height="2.60" fill="#fff2cc" stroke="none" stroke-width="0"/>
<text x="518.60" y="414.60" font-size="5.15" text-anchor="start" fill="#262626" stroke="#262626" stroke-width="0.12" letter-spacing="-0.05">IF_M+1: counting statistics</text>
<rect x="593.80" y="411.60" width="2.60" height="2.60" fill="#c55a11" stroke="none" stroke-width="0"/>
<text x="600.50" y="414.60" font-size="5.15" text-anchor="start" fill="#262626" stroke="#262626" stroke-width="0.12" letter-spacing="-0.05"><tspan font-size="3.4" dy="-1.8">30</tspan><tspan dy="1.8">Si</tspan></text>
<text x="555.30" y="435.20" font-size="5.85" font-weight="bold" text-anchor="start" fill="#111" stroke="#111" stroke-width="0.12" textLength="55.7" lengthAdjust="spacing">IF<tspan font-size="4.2" font-weight="normal" dy="1.2">M+4_corr</tspan><tspan dy="-1.2">= 1.0 ± 0.2%</tspan></text>
<text x="583.20" y="445.70" font-size="5.85" font-weight="bold" text-anchor="middle" fill="#111" stroke="#111" stroke-width="0.12">relative U = 20.1%</text>
<text x="201.80" y="28.00" font-size="7.2" text-anchor="middle" fill="#ee1c1c" stroke="#ee1c1c" stroke-width="0.1">C</text>
<text x="204.55" y="28.00" font-size="7.2" text-anchor="start" fill="#1e1e1e" stroke="#1e1e1e" stroke-width="0.1">H<tspan font-size="4.6" dy="1.4">3</tspan></text>
<text x="192.20" y="34.80" font-size="7.2" text-anchor="middle" fill="#ee1c1c" stroke="#ee1c1c" stroke-width="0.1">C</text>
<text x="189.45" y="34.80" font-size="7.2" text-anchor="end" fill="#1e1e1e" stroke="#1e1e1e" stroke-width="0.1">H<tspan font-size="4.6" dy="1.4">2</tspan></text>
<line x1="195.20" y1="30.20" x2="198.80" y2="27.40" stroke="#555" stroke-width="0.75"/>
<text x="191.50" y="47.00" font-size="7.2" text-anchor="middle" fill="#1e1e1e" stroke="#1e1e1e" stroke-width="0.1">O</text>
<line x1="191.90" y1="35.60" x2="191.70" y2="41.00" stroke="#555" stroke-width="0.75"/>
<text x="201.60" y="55.30" font-size="7.2" text-anchor="middle" fill="#1e1e1e" stroke="#1e1e1e" stroke-width="0.1">N</text>
<line x1="194.00" y1="46.80" x2="199.30" y2="50.20" stroke="#555" stroke-width="0.75"/>
<line x1="200.50" y1="56.20" x2="200.50" y2="64.00" stroke="#555" stroke-width="0.75"/>
<line x1="202.60" y1="56.20" x2="202.60" y2="64.80" stroke="#555" stroke-width="0.75"/>
<line x1="202.60" y1="64.80" x2="190.70" y2="69.60" stroke="#555" stroke-width="0.75"/>
<line x1="190.70" y1="69.60" x2="182.30" y2="66.00" stroke="#555" stroke-width="0.75"/>
<text x="179.30" y="66.70" font-size="7.2" text-anchor="middle" fill="#1e1e1e" stroke="#1e1e1e" stroke-width="0.1">O</text>
<text x="184.40" y="60.80" font-size="4.6" text-anchor="middle" fill="#1e1e1e" stroke="#1e1e1e" stroke-width="0.12">+</text>
<text x="166.7" y="73.0" font-size="7.2" text-anchor="middle" fill="#ee1c1c">Si</text>
<line x1="170.40" y1="67.20" x2="176.10" y2="64.30" stroke="#555" stroke-width="0.75"/>
<line x1="170.90" y1="69.50" x2="176.30" y2="66.90" stroke="#555" stroke-width="0.75"/>
<text x="156.80" y="64.70" font-size="7.2" text-anchor="middle" fill="#ee1c1c" stroke="#ee1c1c" stroke-width="0.1">C</text>
<text x="154.05" y="64.70" font-size="7.2" text-anchor="end" fill="#1e1e1e" stroke="#1e1e1e" stroke-width="0.1">H<tspan font-size="4.6" dy="1.4">3</tspan></text>
<line x1="163.30" y1="67.90" x2="159.60" y2="65.30" stroke="#555" stroke-width="0.75"/>
<text x="163.60" y="85.30" font-size="7.2" text-anchor="middle" fill="#ee1c1c" stroke="#ee1c1c" stroke-width="0.1">C</text>
<text x="160.85" y="85.30" font-size="7.2" text-anchor="end" fill="#1e1e1e" stroke="#1e1e1e" stroke-width="0.1">H<tspan font-size="4.6" dy="1.4">3</tspan></text>
<line x1="165.30" y1="74.20" x2="164.60" y2="79.20" stroke="#555" stroke-width="0.75"/>
<line x1="202.60" y1="64.80" x2="212.20" y2="71.60" stroke="#555" stroke-width="0.75"/>
<path d="M212.2,71.6 L211.0,81.0 L213.6,81.0 Z" fill="#1e1e1e"/>
<text x="212.50" y="86.70" font-size="7.2" text-anchor="middle" fill="#1e1e1e" stroke="#1e1e1e" stroke-width="0.1">O</text>
<line x1="210.90" y1="86.80" x2="207.80" y2="90.00" stroke="#555" stroke-width="0.75"/>
<text x="204.8" y="95.7" font-size="7.2" text-anchor="middle" fill="#ee1c1c">Si</text>
<text x="192.60" y="89.60" font-size="7.2" text-anchor="middle" fill="#ee1c1c" stroke="#ee1c1c" stroke-width="0.1">C</text>
<text x="189.85" y="89.60" font-size="7.2" text-anchor="end" fill="#1e1e1e" stroke="#1e1e1e" stroke-width="0.1">H<tspan font-size="4.6" dy="1.4">3</tspan></text>
<line x1="201.40" y1="91.30" x2="196.00" y2="88.60" stroke="#555" stroke-width="0.75"/>
<text x="197.10" y="106.90" font-size="7.2" text-anchor="middle" fill="#ee1c1c" stroke="#ee1c1c" stroke-width="0.1">C</text>
<text x="194.35" y="106.90" font-size="7.2" text-anchor="end" fill="#1e1e1e" stroke="#1e1e1e" stroke-width="0.1">H<tspan font-size="4.6" dy="1.4">3</tspan></text>
<line x1="203.00" y1="96.30" x2="199.60" y2="100.80" stroke="#555" stroke-width="0.75"/>
<text x="213.80" y="104.30" font-size="7.2" text-anchor="middle" fill="#ee1c1c" stroke="#ee1c1c" stroke-width="0.1">C</text>
<text x="216.55" y="104.30" font-size="7.2" text-anchor="start" fill="#1e1e1e" stroke="#1e1e1e" stroke-width="0.1">H<tspan font-size="4.6" dy="1.4">3</tspan></text>
<line x1="207.60" y1="96.00" x2="211.40" y2="99.30" stroke="#555" stroke-width="0.75"/>
<line x1="212.20" y1="71.60" x2="224.10" y2="65.60" stroke="#555" stroke-width="0.75"/>
<line x1="223.85" y1="64.60" x2="224.55" y2="64.60" stroke="#333" stroke-width="0.6"/>
<line x1="223.53" y1="62.60" x2="224.87" y2="62.60" stroke="#333" stroke-width="0.6"/>
<line x1="223.21" y1="60.60" x2="225.19" y2="60.60" stroke="#333" stroke-width="0.6"/>
<line x1="222.89" y1="58.60" x2="225.51" y2="58.60" stroke="#333" stroke-width="0.6"/>
<line x1="222.57" y1="56.60" x2="225.83" y2="56.60" stroke="#333" stroke-width="0.6"/>
<text x="224.80" y="55.30" font-size="7.2" text-anchor="middle" fill="#1e1e1e" stroke="#1e1e1e" stroke-width="0.1">O</text>
<line x1="227.60" y1="51.00" x2="232.00" y2="48.20" stroke="#555" stroke-width="0.75"/>
<text x="235.7" y="48.3" font-size="7.2" text-anchor="middle" fill="#ee1c1c">Si</text>
<text x="228.00" y="38.00" font-size="7.2" text-anchor="middle" fill="#ee1c1c" stroke="#ee1c1c" stroke-width="0.1">C</text>
<text x="225.25" y="38.00" font-size="7.2" text-anchor="end" fill="#1e1e1e" stroke="#1e1e1e" stroke-width="0.1">H<tspan font-size="4.6" dy="1.4">3</tspan></text>
<line x1="233.60" y1="42.80" x2="230.20" y2="39.00" stroke="#555" stroke-width="0.75"/>
<text x="244.70" y="39.90" font-size="7.2" text-anchor="middle" fill="#ee1c1c" stroke="#ee1c1c" stroke-width="0.1">C</text>
<text x="247.45" y="39.90" font-size="7.2" text-anchor="start" fill="#1e1e1e" stroke="#1e1e1e" stroke-width="0.1">H<tspan font-size="4.6" dy="1.4">3</tspan></text>
<line x1="238.40" y1="42.80" x2="242.20" y2="39.80" stroke="#555" stroke-width="0.75"/>
<text x="244.70" y="57.30" font-size="7.2" text-anchor="middle" fill="#ee1c1c" stroke="#ee1c1c" stroke-width="0.1">C</text>
<text x="247.45" y="57.30" font-size="7.2" text-anchor="start" fill="#1e1e1e" stroke="#1e1e1e" stroke-width="0.1">H<tspan font-size="4.6" dy="1.4">3</tspan></text>
<line x1="238.60" y1="48.80" x2="242.00" y2="52.00" stroke="#555" stroke-width="0.75"/>
<line x1="224.10" y1="65.60" x2="234.10" y2="72.60" stroke="#555" stroke-width="0.75"/>
<line x1="234.10" y1="72.60" x2="234.10" y2="81.40" stroke="#555" stroke-width="0.75"/>
<text x="234.10" y="87.00" font-size="7.2" text-anchor="middle" fill="#1e1e1e" stroke="#1e1e1e" stroke-width="0.1">O</text>
<line x1="237.20" y1="86.60" x2="243.00" y2="88.90" stroke="#555" stroke-width="0.75"/>
<text x="245.70" y="93.40" font-size="7.2" text-anchor="middle" fill="#1e1e1e" stroke="#1e1e1e" stroke-width="0.1">P</text>
<line x1="243.20" y1="93.00" x2="238.80" y2="97.20" stroke="#555" stroke-width="0.75"/>
<line x1="244.60" y1="94.40" x2="240.30" y2="98.60" stroke="#555" stroke-width="0.75"/>
<text x="236.70" y="102.50" font-size="7.2" text-anchor="middle" fill="#1e1e1e" stroke="#1e1e1e" stroke-width="0.1">O</text>
<line x1="247.60" y1="87.80" x2="251.60" y2="83.20" stroke="#555" stroke-width="0.75"/>
<text x="254.00" y="83.10" font-size="7.2" text-anchor="middle" fill="#1e1e1e" stroke="#1e1e1e" stroke-width="0.1">O</text>
<line x1="257.00" y1="80.20" x2="261.90" y2="79.30" stroke="#555" stroke-width="0.75"/>
<text x="265.6" y="81.2" font-size="7.2" text-anchor="middle" fill="#ee1c1c">Si</text>
<text x="263.70" y="68.40" font-size="7.2" text-anchor="middle" fill="#ee1c1c" stroke="#ee1c1c" stroke-width="0.1">C</text>
<text x="260.95" y="68.40" font-size="7.2" text-anchor="end" fill="#1e1e1e" stroke="#1e1e1e" stroke-width="0.1">H<tspan font-size="4.6" dy="1.4">3</tspan></text>
<line x1="265.30" y1="75.40" x2="264.40" y2="69.40" stroke="#555" stroke-width="0.75"/>
<text x="277.80" y="77.40" font-size="7.2" text-anchor="middle" fill="#ee1c1c" stroke="#ee1c1c" stroke-width="0.1">C</text>
<text x="280.55" y="77.40" font-size="7.2" text-anchor="start" fill="#1e1e1e" stroke="#1e1e1e" stroke-width="0.1">H<tspan font-size="4.6" dy="1.4">3</tspan></text>
<line x1="269.40" y1="77.30" x2="274.60" y2="75.90" stroke="#555" stroke-width="0.75"/>
<text x="271.40" y="92.80" font-size="7.2" text-anchor="middle" fill="#ee1c1c" stroke="#ee1c1c" stroke-width="0.1">C</text>
<text x="274.15" y="92.80" font-size="7.2" text-anchor="start" fill="#1e1e1e" stroke="#1e1e1e" stroke-width="0.1">H<tspan font-size="4.6" dy="1.4">3</tspan></text>
<line x1="267.60" y1="82.00" x2="270.00" y2="86.80" stroke="#555" stroke-width="0.75"/>
<line x1="248.30" y1="93.40" x2="252.60" y2="97.20" stroke="#555" stroke-width="0.75"/>
<text x="255.20" y="102.40" font-size="7.2" text-anchor="middle" fill="#1e1e1e" stroke="#1e1e1e" stroke-width="0.1">O</text>
<line x1="255.30" y1="103.00" x2="255.40" y2="108.80" stroke="#555" stroke-width="0.75"/>
<text x="255.6" y="115.1" font-size="7.2" text-anchor="middle" fill="#ee1c1c">Si</text>
<text x="267.90" y="114.50" font-size="7.2" text-anchor="middle" fill="#ee1c1c" stroke="#ee1c1c" stroke-width="0.1">C</text>
<text x="270.65" y="114.50" font-size="7.2" text-anchor="start" fill="#1e1e1e" stroke="#1e1e1e" stroke-width="0.1">H<tspan font-size="4.6" dy="1.4">3</tspan></text>
<line x1="259.60" y1="112.40" x2="264.80" y2="112.00" stroke="#555" stroke-width="0.75"/>
<text x="243.50" y="120.20" font-size="7.2" text-anchor="middle" fill="#ee1c1c" stroke="#ee1c1c" stroke-width="0.1">C</text>
<text x="240.75" y="120.20" font-size="7.2" text-anchor="end" fill="#1e1e1e" stroke="#1e1e1e" stroke-width="0.1">H<tspan font-size="4.6" dy="1.4">3</tspan></text>
<line x1="251.80" y1="114.40" x2="246.80" y2="116.40" stroke="#555" stroke-width="0.75"/>
<text x="258.50" y="128.60" font-size="7.2" text-anchor="middle" fill="#ee1c1c" stroke="#ee1c1c" stroke-width="0.1">C</text>
<text x="261.25" y="128.60" font-size="7.2" text-anchor="start" fill="#1e1e1e" stroke="#1e1e1e" stroke-width="0.1">H<tspan font-size="4.6" dy="1.4">3</tspan></text>
<line x1="256.60" y1="116.20" x2="257.80" y2="122.60" stroke="#555" stroke-width="0.75"/>
</svg></body></html>
